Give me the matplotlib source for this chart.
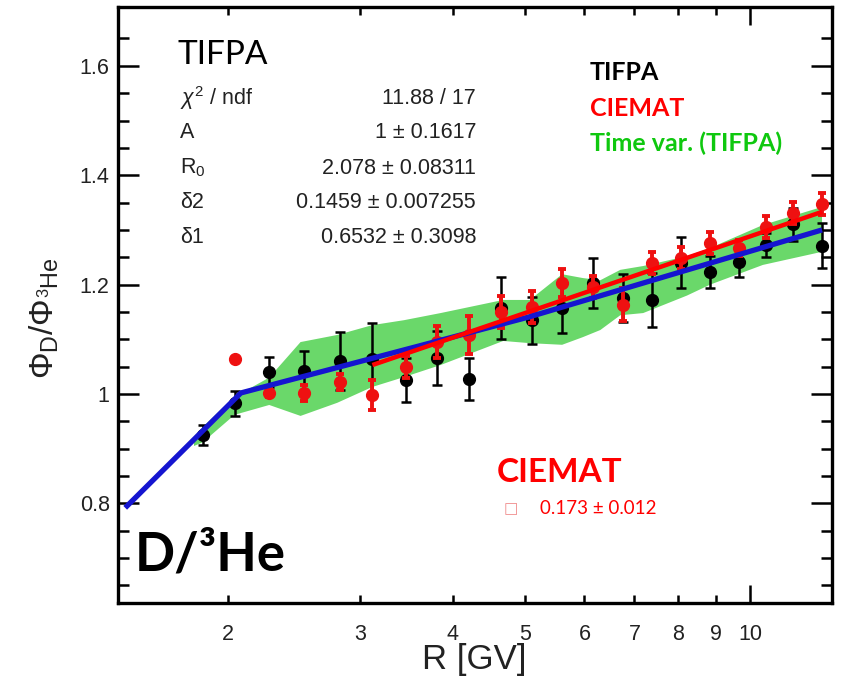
import matplotlib
matplotlib.use("Agg")
import matplotlib.pyplot as plt
from matplotlib.ticker import FixedLocator, FixedFormatter, NullFormatter
import numpy as np

plt.rcParams['mathtext.fontset'] = 'custom'
plt.rcParams['mathtext.rm'] = 'Liberation Sans'
plt.rcParams['mathtext.it'] = 'Liberation Sans:italic'
plt.rcParams['mathtext.bf'] = 'Liberation Sans:bold'

# ---------------- data ----------------
R_bins = [1.85, 2.04, 2.27, 2.53, 2.82, 3.12, 3.46, 3.81, 4.20, 4.64,
          5.10, 5.60, 6.16, 6.76, 7.39, 8.08, 8.84, 9.66, 10.5, 11.4, 12.48]

tifpa_R = R_bins
tifpa_y = [0.925, 0.983, 1.040, 1.042, 1.061, 1.064, 1.026, 1.066, 1.027, 1.157,
           1.135, 1.157, 1.203, 1.175, 1.172, 1.240, 1.223, 1.241, 1.272, 1.310, 1.271]
tifpa_err = [0.018, 0.023, 0.028, 0.037, 0.053, 0.065, 0.040, 0.049, 0.038, 0.057,
             0.043, 0.045, 0.046, 0.044, 0.049, 0.047, 0.030, 0.027, 0.022, 0.030, 0.041]

ciemat_R = R_bins[1:]
ciemat_y = [1.064, 1.002, 1.002, 1.022, 0.998, 1.049, 1.095, 1.108, 1.150,
            1.159, 1.203, 1.195, 1.163, 1.240, 1.249, 1.276, 1.267, 1.305, 1.331, 1.347]
ciemat_err = [0.004, 0.008, 0.015, 0.015, 0.028, 0.020, 0.030, 0.035, 0.030,
              0.030, 0.025, 0.020, 0.030, 0.020, 0.020, 0.020, 0.015, 0.020, 0.020, 0.020]

band_R = [1.80, 1.85, 2.04, 2.27, 2.50, 2.80, 3.12, 3.44, 3.85, 4.67,
          5.07, 5.60, 5.97, 6.30, 6.70, 7.19, 8.23, 8.84, 10.4, 12.48]
band_hi = [0.922, 0.940, 0.995, 1.030, 1.095, 1.108, 1.126, 1.135, 1.148, 1.172,
           1.172, 1.219, 1.212, 1.208, 1.227, 1.234, 1.252, 1.267, 1.309, 1.342]
band_lo = [0.905, 0.912, 0.962, 0.980, 0.960, 0.984, 1.013, 1.031, 1.053, 1.097,
           1.093, 1.090, 1.104, 1.117, 1.144, 1.148, 1.180, 1.200, 1.236, 1.260]

fit_tifpa_R = [1.456, 2.08, 5.06, 12.48]
fit_tifpa_y = [0.792, 1.002, 1.141, 1.300]

fit_ciemat_R = [3.12, 12.48]
fit_ciemat_y = [1.053, 1.333]

x_tick_vals = [2, 3, 4, 5, 6, 7, 8, 9]
x_tick_labels = ['2', '3', '4', '5', '6', '7', '8', '9']
y_tick_vals = [0.8, 1.0, 1.2, 1.4, 1.6]
y_tick_labels = ['0.8', '1', '1.2', '1.4', '1.6']

stat_names = [r'$\chi^{2}$ / ndf', 'A', r'R$_{0}$', 'δ2', 'δ1']
stat_vals = ['11.88 / 17', '1 ± 0.1617', '2.078 ± 0.08311',
             '0.1459 ± 0.007255', '0.6532 ± 0.3098']

# ---------------- figure ----------------
W, H = 841, 685
fig = plt.figure(figsize=(W / 100, H / 100), dpi=100)
L, Rr, T, B = 118, 832, 7, 603
ax = fig.add_axes([L / W, (H - B) / H, (Rr - L) / W, (B - T) / H])
ax.set_xscale('log')
ax.set_xlim(1.424, 12.87)
ax.set_ylim(0.618, 1.7075)

ax.fill_between(band_R, band_lo, band_hi, facecolor='#6ad86a', edgecolor='none', zorder=1)

ax.errorbar(tifpa_R, tifpa_y, yerr=tifpa_err, fmt='o', color='black', ms=8.5,
            elinewidth=1.8, capsize=3.5, capthick=1.8, zorder=3)
ax.errorbar(ciemat_R, ciemat_y, yerr=ciemat_err, fmt='o', color='#ee1111', ms=8.5,
            elinewidth=2.8, capsize=3.0, capthick=2.8, zorder=4)

ax.plot(fit_tifpa_R, fit_tifpa_y, color='#1515d0', lw=3.8, zorder=5, solid_capstyle='butt')
ax.plot(fit_ciemat_R, fit_ciemat_y, color='#ff0000', lw=3.2, zorder=6, solid_capstyle='butt')

# ticks
ax.xaxis.set_major_locator(FixedLocator([10]))
ax.xaxis.set_major_formatter(FixedFormatter(['10']))
ax.xaxis.set_minor_locator(FixedLocator(x_tick_vals))
ax.xaxis.set_minor_formatter(FixedFormatter(x_tick_labels))
ax.yaxis.set_major_locator(FixedLocator(y_tick_vals))
ax.yaxis.set_major_formatter(FixedFormatter(y_tick_labels))
ax.yaxis.set_minor_locator(FixedLocator(np.arange(0.65, 1.70, 0.05)))
ax.yaxis.set_minor_formatter(NullFormatter())

ax.tick_params(axis='both', which='both', direction='in', top=True, right=True,
               width=1.8, colors='black', labelcolor='#222222')
ax.tick_params(axis='y', which='major', length=15, labelsize=15.5, pad=6)
ax.tick_params(axis='y', which='minor', length=8)
ax.tick_params(axis='x', which='major', length=13, labelsize=15.5, pad=15)
ax.tick_params(axis='x', which='minor', length=6, labelsize=15.5, pad=15)
for lab in ax.get_xticklabels(which='both') + ax.get_yticklabels():
    lab.set_fontfamily('Liberation Sans')
for s in ax.spines.values():
    s.set_linewidth(2.4)

def ft(x, y, s, **kw):
    fig.text(x / W, 1 - y / H, s, **kw)

# axis labels
ft(474, 660, 'R [GV]', ha='center', va='center', fontsize=25,
   family='Liberation Sans', color='#222222')
ft(44, 318, r'$\Phi_{\mathrm{D}}/\Phi_{^{3}\mathrm{He}}$', ha='center', va='center',
   fontsize=24, rotation=90, color='#222222')

# stats box
ft(178, 55, 'TIFPA', ha='left', va='center', fontsize=24, family='Lato', color='black')
rows_y = [98, 133, 168, 203, 238]
for nm, vv, yy in zip(stat_names, stat_vals, rows_y):
    ft(180, yy, nm, ha='left', va='center', fontsize=15.5, family='Liberation Sans',
       color='#222222')
    ft(476, yy, vv, ha='right', va='center', fontsize=15.5, family='Liberation Sans',
       color='#222222')

# legend-like labels
ft(590, 72, 'TIFPA', ha='left', va='center', fontsize=18, family='Lato',
   weight='bold', color='black')
ft(590, 108, 'CIEMAT', ha='left', va='center', fontsize=18, family='Lato',
   weight='bold', color='#ff0000')
ft(590, 143, 'Time var. (TIFPA)', ha='left', va='center', fontsize=18, family='Lato',
   weight='bold', color='#0fc80f')

# CIEMAT result
ft(497, 472, 'CIEMAT', ha='left', va='center', fontsize=24, family='Lato',
   weight='bold', color='#ff0000')
ft(504, 509, '□', ha='left', va='center', fontsize=11, family='DejaVu Sans',
   color='#f08a8a')
ft(540, 509, '0.173 ± 0.012', ha='left', va='center', fontsize=13.5, family='Lato',
   color='#ff0000')

# D/3He
ft(135, 555, 'D/³He', ha='left', va='center', fontsize=38,
   family=['Lato', 'DejaVu Sans'], weight='bold', color='black')

fig.savefig('out.png', dpi=100)
